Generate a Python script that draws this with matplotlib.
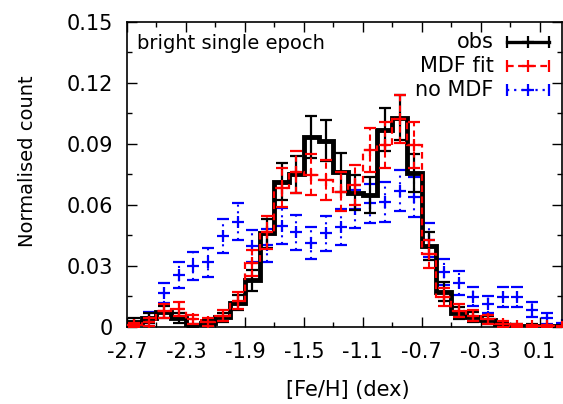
import numpy as np
import matplotlib
matplotlib.use("Agg")
import matplotlib.pyplot as plt
from matplotlib.ticker import FixedLocator, MultipleLocator

plt.rcParams['font.family'] = ['DejaVu Sans']

# --- dados (bins de 0.1 dex) ---
feh_centres = np.round(np.arange(-2.65, 0.3, 0.1), 2)
bin_edges = np.round(np.arange(-2.7, 0.35, 0.1), 2)

obs = [0.0025, 0.0045, 0.0075, 0.0045, 0.0007, 0.0020, 0.0047, 0.0120, 0.0230, 0.0460,
       0.0715, 0.0750, 0.0936, 0.0917, 0.0760, 0.0660, 0.0650, 0.0970, 0.1030, 0.0757,
       0.0397, 0.0174, 0.0069, 0.0050, 0.0035, 0.0008, 0.0005, 0.0005, 0.0003, 0.0003]
obs_err = [0.0017, 0.0023, 0.0029, 0.0023, 0.0009, 0.0015, 0.0023, 0.0037, 0.0052, 0.0073,
           0.0091, 0.0093, 0.0104, 0.0103, 0.0094, 0.0087, 0.0087, 0.0106, 0.0109, 0.0094,
           0.0068, 0.0045, 0.0028, 0.0024, 0.0020, 0.0010, 0.0008, 0.0008, 0.0006, 0.0006]

mdf_fit = [0.0010, 0.0024, 0.0078, 0.0088, 0.0037, 0.0026, 0.0055, 0.0130, 0.0315, 0.0465,
           0.0685, 0.0762, 0.0748, 0.0723, 0.0666, 0.0700, 0.0870, 0.0895, 0.1022, 0.0895,
           0.0357, 0.0146, 0.0080, 0.0055, 0.0038, 0.0015, 0.0006, 0.0004, 0.0003, 0.0002]
mdf_err = [0.0012, 0.0018, 0.0033, 0.0035, 0.0023, 0.0019, 0.0027, 0.0042, 0.0066, 0.0080,
           0.0097, 0.0102, 0.0101, 0.0100, 0.0096, 0.0098, 0.0109, 0.0111, 0.0118, 0.0111,
           0.0069, 0.0045, 0.0033, 0.0027, 0.0023, 0.0014, 0.0009, 0.0007, 0.0006, 0.0005]

no_mdf = [0.0005, 0.0045, 0.0167, 0.0255, 0.0300, 0.0318, 0.0446, 0.0518, 0.0397, 0.0401,
          0.0495, 0.0466, 0.0412, 0.0460, 0.0492, 0.0580, 0.0608, 0.0613, 0.0670, 0.0640,
          0.0428, 0.0270, 0.0217, 0.0149, 0.0111, 0.0148, 0.0148, 0.0086, 0.0042, 0.0010]
no_mdf_err = [0.0010, 0.0027, 0.0051, 0.0063, 0.0068, 0.0070, 0.0083, 0.0090, 0.0079, 0.0079,
              0.0088, 0.0085, 0.0080, 0.0085, 0.0088, 0.0095, 0.0097, 0.0098, 0.0102, 0.0100,
              0.0082, 0.0065, 0.0058, 0.0048, 0.0042, 0.0048, 0.0048, 0.0037, 0.0026, 0.0012]

xticks = [-2.7, -2.3, -1.9, -1.5, -1.1, -0.7, -0.3, 0.1]
yticks = [0, 0.03, 0.06, 0.09, 0.12, 0.15]
ytick_labels = ['0', '0.03', '0.06', '0.09', '0.12', '0.15']

# --- figura ---
fig = plt.figure(figsize=(5.63, 4.04), dpi=100)
ax = fig.add_axes([0.2256, 0.1906, 0.772, 0.755])

dots = (0, (1, 2.2))
dashes = (0, (3, 2))

# no MDF: só cruzes com barras pontilhadas
eb = ax.errorbar(feh_centres, no_mdf, yerr=no_mdf_err, fmt='+', color='blue', ms=9, mew=1.6,
                 elinewidth=1.5, capsize=4.5, capthick=1.2, zorder=2)
eb[2][0].set_linestyle(dots)
for cap in eb[1]:
    cap.set_markersize(8)

# MDF fit: degraus tracejados + cruzes
ax.stairs(mdf_fit, bin_edges, baseline=None, color='red', lw=1.6, ls=dashes, zorder=4)
eb = ax.errorbar(feh_centres, mdf_fit, yerr=mdf_err, fmt='+', color='red', ms=9, mew=1.6,
                 elinewidth=1.5, capsize=4.5, capthick=1.5, zorder=4)
eb[2][0].set_linestyle(dashes)

# obs: degraus grossos pretos
ax.stairs(obs, bin_edges, baseline=None, color='black', lw=3.5, zorder=3)
ax.errorbar(feh_centres, obs, yerr=obs_err, fmt='none', ecolor='black',
            elinewidth=1.6, capsize=4.5, capthick=1.6, zorder=3)

ax.set_xlim(-2.7, 0.25)
ax.set_ylim(0, 0.15)

ax.xaxis.set_major_locator(FixedLocator(xticks))
ax.xaxis.set_minor_locator(FixedLocator(np.round(np.arange(-2.5, 0.25, 0.4), 2)))
ax.set_xticklabels([f'{t:.1f}' for t in xticks])
ax.yaxis.set_major_locator(FixedLocator(yticks))
ax.yaxis.set_minor_locator(MultipleLocator(0.015))
ax.set_yticklabels(ytick_labels)

ax.tick_params(which='both', direction='in', top=True, right=True, labelsize=15, width=1)
ax.tick_params(which='major', length=7)
ax.tick_params(which='minor', length=3.5)
ax.tick_params(axis='x', pad=11)
ax.tick_params(axis='y', pad=10)
for sp in ax.spines.values():
    sp.set_linewidth(1.2)

ax.set_xlabel('[Fe/H] (dex)', fontsize=15)
ax.set_ylabel('Normalised count', fontsize=14)
ax.xaxis.set_label_coords(0.507, -0.175)
ax.yaxis.set_label_coords(-0.207, 0.545)

ax.text(0.022, 0.931, 'bright single epoch', transform=ax.transAxes, fontsize=14,
        ha='left', va='center')

# legenda no estilo gnuplot
labels = ['obs', 'MDF fit', 'no MDF']
colors = ['black', 'red', 'blue']
styles = ['-', dashes, dots]
widths = [2.4, 1.6, 1.6]
rows = [0.934, 0.856, 0.777]
for lab, c, st, w, yy in zip(labels, colors, styles, widths, rows):
    ax.text(0.844, yy, lab, transform=ax.transAxes, fontsize=15, ha='right', va='center')
    ax.plot([0.874, 0.970], [yy, yy], transform=ax.transAxes, color=c, ls=st, lw=w,
            clip_on=False)
    ax.plot([0.874, 0.970], [yy, yy], transform=ax.transAxes, color=c, ls='none',
            marker='|', ms=8, mew=1.6, clip_on=False)
    ax.plot([0.922], [yy], transform=ax.transAxes, color=c, marker='+', ms=8, mew=1.6,
            clip_on=False)

fig.savefig('out.png', dpi=100)
